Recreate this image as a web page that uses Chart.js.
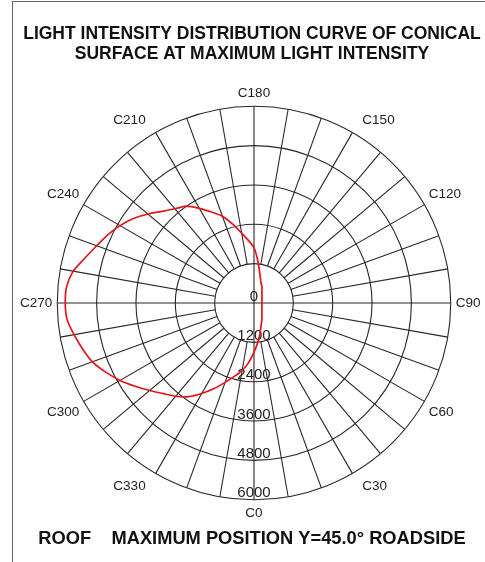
<!DOCTYPE html>
<html>
<head>
<meta charset="utf-8">
<script src="https://cdn.jsdelivr.net/npm/chart.js@4.4.1/dist/chart.umd.min.js"></script>
<style>
  html, body { margin: 0; padding: 0; background: #fff; }
  #wrap { position: relative; width: 485px; height: 562px; }
  #frame { position: absolute; left: 12px; top: 1px; right: 0; bottom: 0; border-left: 1px solid #666; border-top: 1px solid #666; pointer-events: none; }
  canvas { position: absolute; left: 0; top: 0; }
</style>
</head>
<body>
<div id="wrap">
  <canvas id="polar" width="485" height="562"></canvas>
  <div id="frame"></div>
</div>
<script>
// C-plane angles (deg) and measured intensity (cd) at maximum intensity cone
const cAngles = [0, 5, 10, 15, 20, 25, 30, 35, 40, 45, 50, 55, 60, 65, 70, 75, 80, 85,
                 90, 95, 100, 105, 110, 115, 120, 125, 130, 135, 140, 145, 150, 155, 160, 165, 170, 175,
                 180, 185, 190, 195, 200, 205, 210, 215, 220, 225, 230, 235, 240, 245, 250, 255, 260, 265,
                 270, 275, 280, 285, 290, 295, 300, 305, 310, 315, 320, 325, 330, 335, 340, 345, 350, 355];
const intensity = [1500, 1233, 1000, 791, 660, 570, 485, 421, 376, 342, 315, 297, 279, 267, 258, 251, 245, 242,
                   242, 242, 245, 251, 258, 267, 279, 297, 315, 342, 376, 421, 485, 573, 633, 764, 973, 1309,
                   1685, 1909, 2166, 2485, 2818, 3060, 3333, 3606, 3751, 3954, 4221, 4490, 4718, 4921, 5106, 5330, 5599, 5736,
                   5757, 5724, 5572, 5412, 5245, 4990, 4721, 4424, 4151, 3909, 3712, 3485, 3185, 2879, 2576, 2318, 2088, 1818];
const ringValues = [0, 1200, 2400, 3600, 4800, 6000];
const ringLabels = ['0', '1200', '2400', '3600', '4800', '6000'];

const gridColor = '#2e2424';
const curveColor = '#e3141c';
const fontFamily = "'Liberation Sans', Arial, sans-serif";

// chart.js goes clockwise, the C planes go counter-clockwise: C0 at bottom, C90 at right
function reorder(arr) {
    return arr.map((v, i) => arr[(arr.length - i) % arr.length]);
}

// labels off the vertical axis sit a bit further out sideways in the original drawing
function cLabel(angle) {
    if (angle % 30 !== 0) return '';
    const text = 'C' + angle;
    if (angle === 30 || angle === 150) return '  ' + text;
    if (angle === 210 || angle === 330) return text + '  ';
    return text;
}

const polarGrid = {
    id: 'polarGrid',
    beforeDatasetsDraw(chart) {
        const scale = chart.scales.r;
        const ctx = chart.ctx;
        const inner = scale.getDistanceFromCenterForValue(ringValues[1]);
        const outer = scale.getDistanceFromCenterForValue(ringValues[ringValues.length - 1]);
        ctx.save();
        ctx.strokeStyle = gridColor;
        ctx.lineWidth = 1.1;
        chart.data.labels.forEach((angle, i) => {
            if (angle % 10 !== 0) return;
            const from = scale.getPointPosition(i, angle % 90 === 0 ? 0 : inner);
            const to = scale.getPointPosition(i, outer);
            ctx.beginPath();
            ctx.moveTo(from.x, from.y);
            ctx.lineTo(to.x, to.y);
            ctx.stroke();
        });
        ctx.font = '15px ' + fontFamily;
        ctx.fillStyle = '#222';
        ctx.textAlign = 'center';
        ctx.textBaseline = 'alphabetic';
        ringValues.forEach((v, k) => {
            const d = scale.getDistanceFromCenterForValue(v);
            ctx.fillText(ringLabels[k], scale.xCenter, scale.yCenter + d - 2.5);
        });
        ctx.restore();
    }
};

function makePolarChart() {
    return new Chart(document.getElementById('polar'), {
        type: 'radar',
        data: {
            labels: reorder(cAngles),
            datasets: [{
                data: reorder(intensity),
                borderColor: curveColor,
                borderWidth: 1.7,
                backgroundColor: 'transparent',
                fill: false,
                pointRadius: 0,
                tension: 0.25
            }]
        },
        options: {
            responsive: false,
            animation: false,
            layout: {padding: {left: 17, right: -2, top: 0, bottom: 0}},
            scales: {
                r: {
                    min: 0,
                    max: 6000,
                    startAngle: 180,
                    ticks: {display: false, stepSize: 1200},
                    grid: {circular: true, color: gridColor, lineWidth: 1.1},
                    angleLines: {display: false},
                    pointLabels: {
                        padding: 5,
                        color: '#222',
                        font: {family: fontFamily, size: 13.5},
                        callback: cLabel
                    }
                }
            },
            plugins: {
                legend: {display: false},
                tooltip: {enabled: false},
                title: {
                    display: true,
                    text: ['LIGHT INTENSITY DISTRIBUTION CURVE OF CONICAL', 'SURFACE AT MAXIMUM LIGHT INTENSITY'],
                    color: '#111',
                    font: {family: fontFamily, size: 17.5, weight: 'bold', lineHeight: 1.12},
                    padding: {top: 24.6, bottom: 21}
                },
                subtitle: {
                    display: true,
                    position: 'bottom',
                    text: 'ROOF    MAXIMUM POSITION Y=45.0\u00b0 ROADSIDE',
                    color: '#111',
                    font: {family: fontFamily, size: 18.3, weight: 'bold', lineHeight: 1.2},
                    padding: {top: 5, bottom: 12}
                }
            }
        },
        plugins: [polarGrid]
    });
}

const polarChart = makePolarChart();
</script>
</body>
</html>
